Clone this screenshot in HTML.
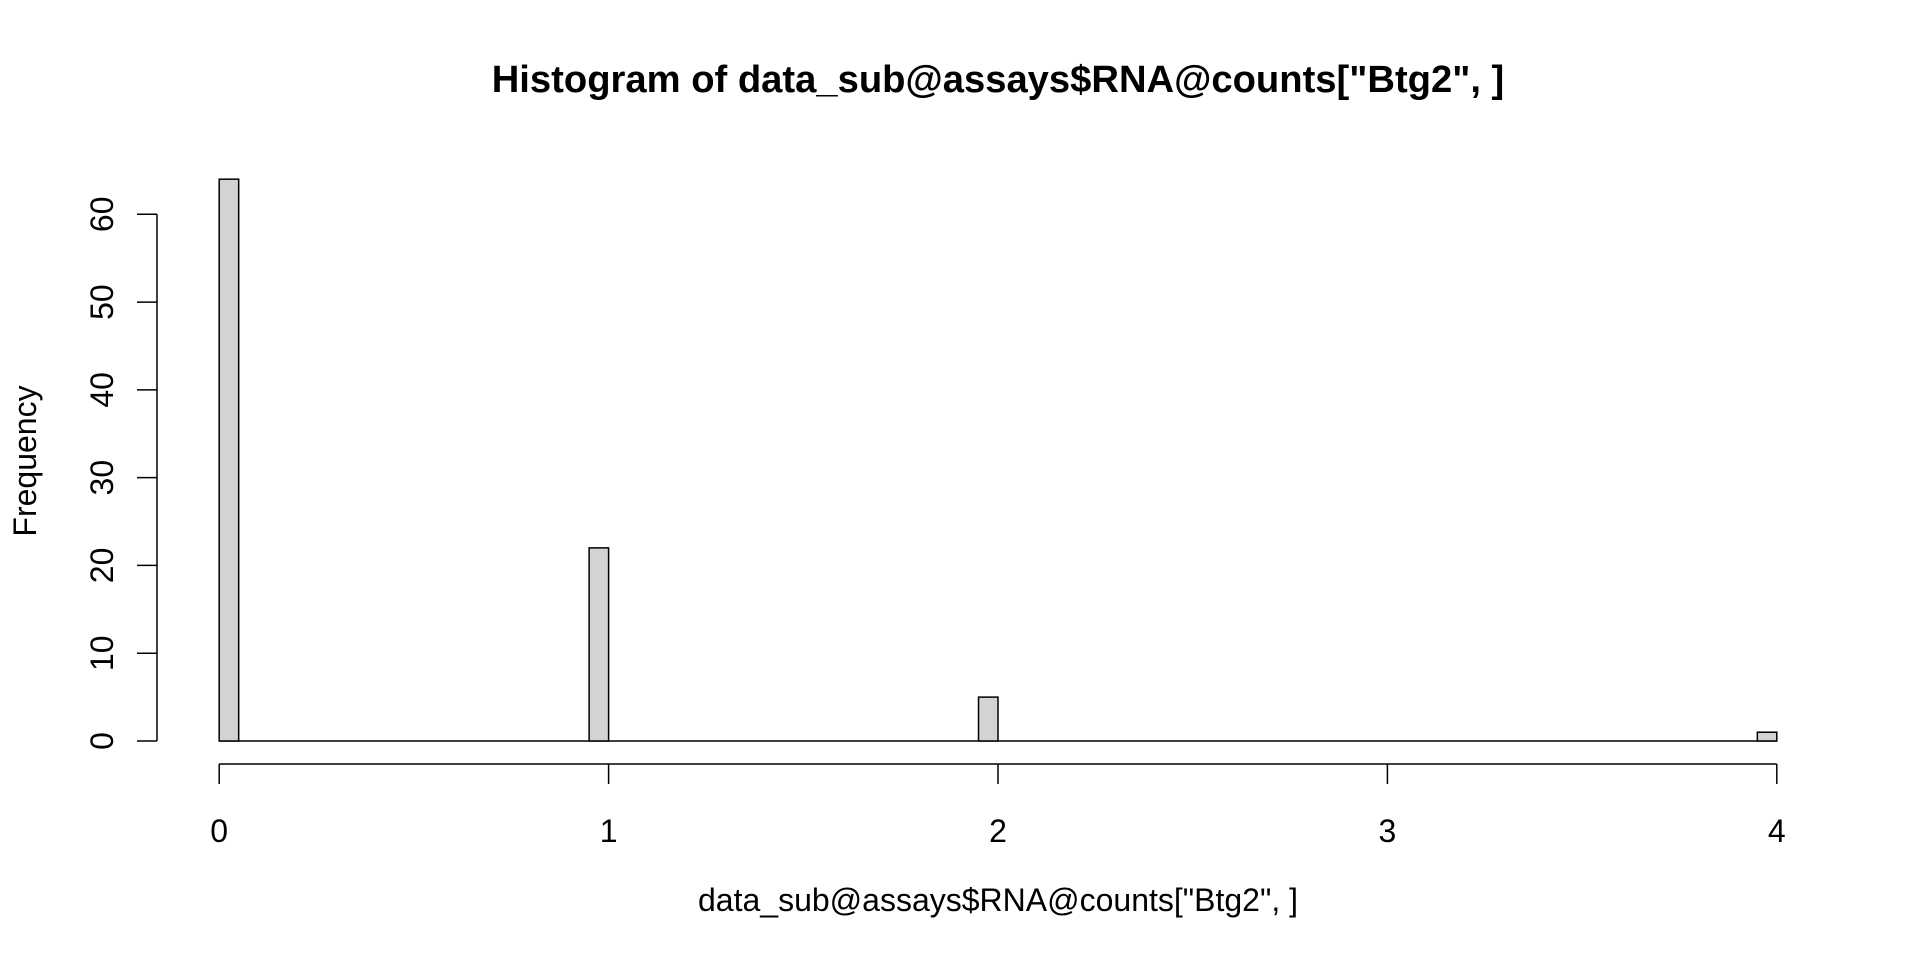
<!DOCTYPE html>
<html><head><meta charset="utf-8"><style>
html,body{margin:0;padding:0;background:#fff;}
svg{display:block;font-family:"Liberation Sans",sans-serif;}
</style></head><body>
<svg id="chart" width="1920" height="960" viewBox="0 0 1920 960" xmlns="http://www.w3.org/2000/svg">
<text x="998" y="92" text-anchor="middle" font-size="38.2" font-weight="bold">Histogram of data_sub@assays$RNA@counts["Btg2", ]</text>
<text x="998" y="911" text-anchor="middle" font-size="32">data_sub@assays$RNA@counts["Btg2", ]</text>
<text transform="translate(36,461) rotate(-90)" text-anchor="middle" font-size="32">Frequency</text>
<g id="bars"></g>
<g id="xaxis"></g>
<g id="yaxis"></g>
</svg>
<script>
const binStarts = [0, 0.95, 1.95, 3.95];
const binCounts = [64, 22, 5, 1];
const binWidth = 0.05;
const xTicks = [0, 1, 2, 3, 4];
const yTicks = [0, 10, 20, 30, 40, 50, 60];

const NS = "http://www.w3.org/2000/svg";
const X0 = 219.2, X1 = 1776.8, Y0 = 741, Y60 = 214.3;
function sx(v){ return X0 + (X1 - X0) * v / 4; }
function sy(v){ return Y0 - (Y0 - Y60) * v / 60; }
function mk(tag, attrs, parent){
  const e = document.createElementNS(NS, tag);
  for (const k in attrs) e.setAttribute(k, attrs[k]);
  parent.appendChild(e);
  return e;
}
const bars = document.getElementById('bars');
const xa = document.getElementById('xaxis');
const ya = document.getElementById('yaxis');

const base = mk('line', {x1: sx(0), x2: sx(4), y1: sy(0), y2: sy(0), stroke: '#000', 'stroke-width': 1.5}, bars);



binStarts.forEach((s, i) => {
  const r = mk('rect', {x: sx(s), y: sy(binCounts[i]), width: sx(s + binWidth) - sx(s), height: sy(0) - sy(binCounts[i]), fill: '#d3d3d3', stroke: '#000', 'stroke-width': 1.5}, bars);
  
  
});

const axY = 764;
const xl = mk('line', {x1: sx(xTicks[0]), x2: sx(xTicks[xTicks.length-1]), y1: axY, y2: axY, stroke: '#000', 'stroke-width': 1.5}, xa);


xTicks.forEach(t => {
  const tk = mk('line', {x1: sx(t), x2: sx(t), y1: axY, y2: axY + 20, stroke: '#000', 'stroke-width': 1.5}, xa);
  
  
  const tx = mk('text', {x: sx(t), y: 842, 'text-anchor': 'middle', 'font-size': 32}, xa);
  tx.textContent = t;
  
  
});

const axX = 157;
const yl = mk('line', {x1: axX, x2: axX, y1: sy(yTicks[0]), y2: sy(yTicks[yTicks.length-1]), stroke: '#000', 'stroke-width': 1.5}, ya);


yTicks.forEach(t => {
  const tk = mk('line', {x1: axX - 20, x2: axX, y1: sy(t), y2: sy(t), stroke: '#000', 'stroke-width': 1.5}, ya);
  
  
  const tx = mk('text', {transform: 'translate(113,' + sy(t) + ') rotate(-90)', 'text-anchor': 'middle', 'font-size': 32}, ya);
  tx.textContent = t;
  
  
});
</script>
</body></html>
